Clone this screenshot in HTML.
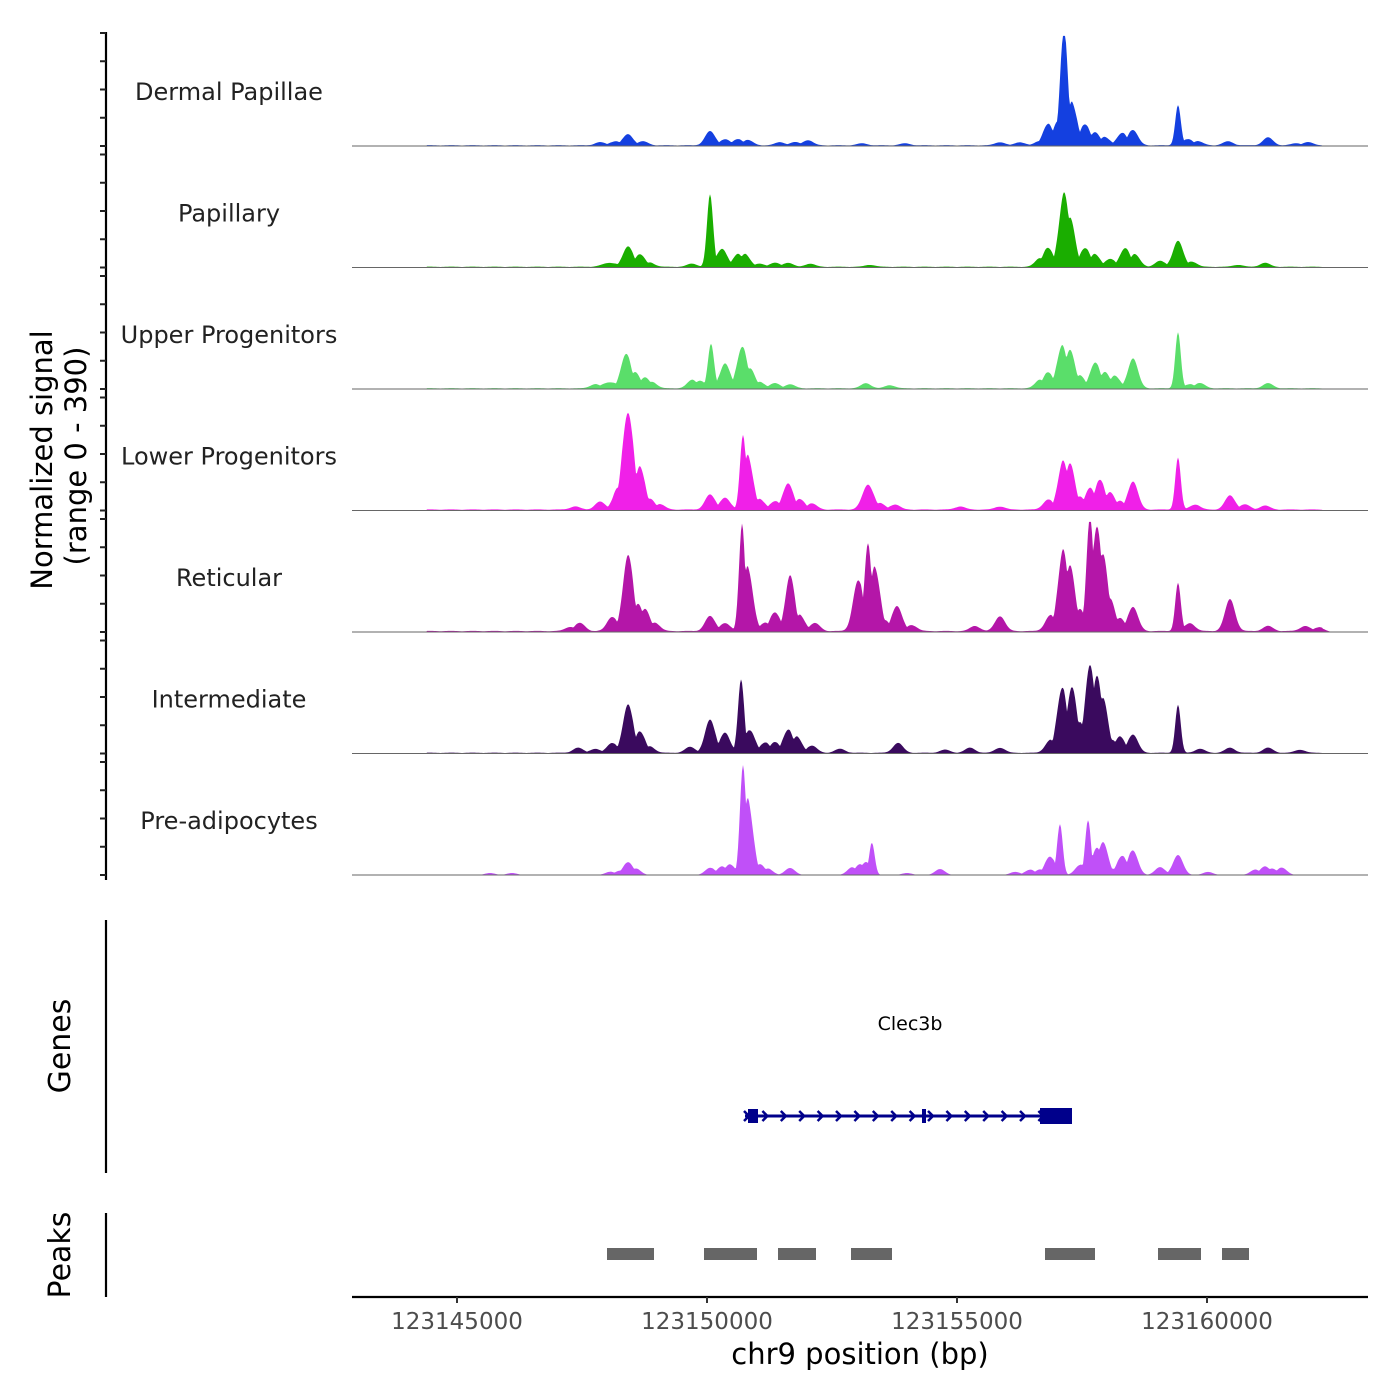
<!DOCTYPE html>
<html><head><meta charset="utf-8"><style>
body{margin:0;background:#fff;}
svg{display:block;font-family:"DejaVu Sans","Liberation Sans",sans-serif;}
</style></head><body>
<svg id="chart" width="1400" height="1400" viewBox="0 0 1400 1400" xmlns="http://www.w3.org/2000/svg">
<g id="tracks"></g>
<g id="left-axis"></g>
<text transform="translate(52,460) rotate(-90)" text-anchor="middle" font-size="29" fill="#000">Normalized signal</text>
<text transform="translate(86,456) rotate(-90)" text-anchor="middle" font-size="29" fill="#000">(range 0 - 390)</text>
<line x1="106" y1="920" x2="106" y2="1173" stroke="#000" stroke-width="2.2"/>
<text transform="translate(70,1046) rotate(-90)" text-anchor="middle" font-size="30">Genes</text>
<line x1="106" y1="1213" x2="106" y2="1297" stroke="#000" stroke-width="2.2"/>
<text transform="translate(70,1255) rotate(-90)" text-anchor="middle" font-size="30">Peaks</text>
<g id="gene"></g>
<g id="peaks"></g>
<g id="xaxis"></g>
<text x="860" y="1364" text-anchor="middle" font-size="29" fill="#000">chr9 position (bp)</text>
</svg>
<script>
const trackNames = ["Dermal Papillae","Papillary","Upper Progenitors","Lower Progenitors","Reticular","Intermediate","Pre-adipocytes"];
const trackColors = ["#1440e0","#1aae00","#5ade6a","#f020e8","#b416a8","#3a0a5e","#c050f8"];
const trackFloor = [3,3,3,4,4,3,0];
const xTicks = [123145000,123150000,123155000,123160000];
const yTickValues = [0,100,200,300,400];
// peaks: [position bp, signal, width bp (optional)]
const dermalPapillae = [[123147860,11],[123148160,14],[123148420,39],[123148720,14],[123150060,50],[123150360,21],[123150620,21],[123150820,18],[123151460,11],[123151760,11],[123152020,18],[123153100,7],[123153960,7],[123155860,11],[123156260,11],[123156660,14],[123156820,71],[123157020,78],[123157140,382,75],[123157300,141],[123157560,71],[123157760,42],[123157960,28],[123158300,42],[123158520,53],[123159420,141,55],[123159620,21],[123159820,14],[123160420,14],[123161220,28],[123161780,7],[123162020,11]];
const papillary = [[123148060,14,150],[123148420,71],[123148660,42],[123148860,14],[123149700,11],[123150060,255,60],[123150300,64],[123150620,42],[123150760,42],[123151060,11],[123151360,14],[123151620,14],[123152060,11],[123153260,7],[123156660,28],[123156820,64],[123157140,241],[123157260,159],[123157560,64],[123157760,42],[123158060,28],[123158360,64],[123158560,42],[123159060,21],[123159420,92],[123159700,18],[123160620,7],[123161160,14]];
const upperProgenitors = [[123147760,14],[123148060,21,150],[123148380,117],[123148560,53],[123148760,35],[123148900,21],[123149700,28],[123149860,25],[123150080,156,60],[123150360,88],[123150700,141],[123150860,64],[123151060,21],[123151360,18],[123151660,14],[123153180,18],[123153660,11],[123156660,28],[123156820,53],[123157100,141],[123157260,124],[123157460,42],[123157760,88],[123157960,53],[123158160,42],[123158520,106],[123159420,198,55],[123159660,14],[123159860,18],[123161220,18]];
const lowerProgenitors = [[123147360,11],[123147860,28],[123148220,71],[123148420,336,110],[123148660,141],[123148860,35],[123149060,18],[123150060,53],[123150360,42],[123150720,241,60],[123150820,177],[123151060,35],[123151360,28],[123151620,92],[123151860,35],[123152100,21],[123153220,88,110],[123153460,21],[123153760,18],[123155060,11],[123155860,11],[123156820,35],[123157120,159],[123157260,149],[123157460,42],[123157660,71],[123157860,99],[123158060,57],[123158260,28],[123158520,99],[123159420,184,55],[123159760,18],[123160460,50,100],[123160760,18],[123161160,14]];
const reticular = [[123147260,14],[123147460,28],[123148100,50],[123148420,265],[123148620,88],[123148760,71],[123148960,28],[123150060,53],[123150360,28],[123150700,347,60],[123150820,212],[123151160,28],[123151360,64],[123151660,195,90],[123151860,53],[123152160,28],[123153020,177],[123153220,283,70],[123153360,212],[123153560,35],[123153800,88],[123154100,21],[123155360,18],[123155860,53],[123156860,53],[123157120,265],[123157260,212],[123157460,71],[123157660,372,70],[123157800,336],[123157920,248],[123158060,106],[123158260,42],[123158520,85],[123159420,170,55],[123159660,28],[123160460,113,100],[123161220,18],[123161960,18],[123162260,14]];
const intermediate = [[123147420,18],[123147760,14],[123148100,35],[123148420,170],[123148660,71],[123148860,21],[123149660,21],[123150060,117],[123150360,71],[123150680,255,60],[123150860,78],[123151160,35],[123151360,35],[123151620,78],[123151800,53],[123152100,25],[123152660,14],[123153820,35],[123154760,11],[123155260,18],[123155860,18],[123156860,42],[123157100,219],[123157300,212],[123157460,99],[123157660,283],[123157800,248],[123157920,177],[123158100,42],[123158260,53],[123158520,64],[123159420,170,55],[123159860,14],[123160460,18],[123161220,18],[123161860,11]];
const preAdipocytes = [[123145660,7],[123146100,7],[123148060,11],[123148260,14],[123148420,42],[123148580,21],[123150060,25],[123150300,28],[123150460,35],[123150720,354,60],[123150820,248],[123151060,35],[123151220,21],[123151660,25],[123152900,25],[123153060,35],[123153180,42],[123153300,106,55],[123154000,7],[123154660,21],[123156160,11],[123156460,18],[123156660,18],[123156860,64],[123157060,177,55],[123157460,35],[123157620,184,55],[123157800,88],[123157920,106],[123158100,21],[123158300,64],[123158520,85],[123159060,28],[123159420,71],[123160020,11],[123160960,18],[123161160,28],[123161300,21],[123161500,25]];
const trackData = [dermalPapillae,papillary,upperProgenitors,lowerProgenitors,reticular,intermediate,preAdipocytes];
const signalStart = 123144400, signalEnd = 123162300;
const geneStart = 123150760, geneEnd = 123157300;
const geneExons = [[123150820,123151020],[123154300,123154380],[123156660,123157300]];
const peakStarts = [123148000,123149940,123151420,123152880,123156760,123159020,123160300];
const peakEnds = [123148940,123151000,123152180,123153700,123157760,123159880,123160840];

const NS="http://www.w3.org/2000/svg";
const X0=352,X1=1368,BP0=123142900,BP1=123163220;
const xScale=b=>X0+(b-BP0)*(X1-X0)/(BP1-BP0);
const PX_PER_UNIT=113/400;
const baseY=i=>146+121.5*i;
const yScale=(v,i)=>baseY(i)-v*PX_PER_UNIT;
function mk(tag,attrs,parent){const e=document.createElementNS(NS,tag);for(const k in attrs)e.setAttribute(k,attrs[k]);parent.appendChild(e);return e;}
const tracks=document.getElementById('tracks');
trackData.forEach((peaks,i)=>{
  const g=mk('g',{},tracks);
  
  
  let d='M'+X0+' '+baseY(i);
  for(let b=BP0;b<=BP1;b+=20){
    let v=0,sum=0;
    for(const p of peaks){const w=p[2]||100;const z=(b-p[0])/w;const s=p[1]*Math.exp(-0.5*z*z);sum+=s;if(s>v)v=s;}
    v=Math.min(v+0.35*(sum-v),v*1.1);
    if(b>=signalStart&&b<=signalEnd)v+=trackFloor[i]*(0.6+0.4*Math.abs(Math.sin(b/137)));
    v=Math.min(v,390);
    d+=' L'+xScale(b).toFixed(1)+' '+yScale(v,i).toFixed(2);
  }
  d+=' L'+X1+' '+baseY(i)+' Z';
  const a=mk('path',{d:d,fill:trackColors[i]},g);
  
  
  const bl=mk('line',{x1:X0,x2:X1,y1:baseY(i),y2:baseY(i),stroke:'#666','stroke-width':1},g);
  
  
  const t=mk('text',{x:229,y:baseY(i)-46,'text-anchor':'middle','font-size':24,fill:'#222'},g);
  
  
  t.textContent=trackNames[i];
});
const la=document.getElementById('left-axis');
mk('line',{x1:106,x2:106,y1:32,y2:880,stroke:'#000','stroke-width':2.2},la);
trackData.forEach((p,i)=>{
  yTickValues.forEach(v=>{
    const y=yScale(v,i);
    const tk=mk('line',{x1:100,x2:106,y1:y,y2:y,stroke:'#222','stroke-width':2},la);
    
    
  });
});
// gene
const gg=document.getElementById('gene');
const gy=1116;
const gl=mk('line',{x1:xScale(geneStart),x2:xScale(geneEnd),y1:gy,y2:gy,stroke:'#00008b','stroke-width':3},gg);


for(let x=xScale(geneStart)+2;x<xScale(geneEnd)-30;x+=18.4){
  const c=mk('polyline',{points:(x-3)+','+(gy-5)+' '+(x+2)+','+gy+' '+(x-3)+','+(gy+5),fill:'none',stroke:'#00008b','stroke-width':2.5},gg);
  
  
}
geneExons.forEach((e,k)=>{
  const big=k===2;
  const r=mk('rect',{x:xScale(e[0]),y:gy-(big?8:7),width:Math.max(3,xScale(e[1])-xScale(e[0])),height:big?16:14,fill:'#00008b'},gg);
  
  
});
const gt=mk('text',{x:910,y:1030,'text-anchor':'middle','font-size':19,fill:'#000'},gg);


gt.textContent='Clec3b';
// peaks
const pg=document.getElementById('peaks');
peakStarts.forEach((s,k)=>{
  const r=mk('rect',{x:xScale(s),y:1248,width:xScale(peakEnds[k])-xScale(s),height:12,fill:'#666'},pg);
  
  
});
// x axis
const xa=document.getElementById('xaxis');
mk('line',{x1:X0,x2:X1,y1:1297,y2:1297,stroke:'#000','stroke-width':2.2},xa);
xTicks.forEach(t=>{
  const x=xScale(t);
  const tk=mk('line',{x1:x,x2:x,y1:1297,y2:1303,stroke:'#333','stroke-width':2},xa);
  
  
  const lb=mk('text',{x:x,y:1329,'text-anchor':'middle','font-size':23,fill:'#4d4d4d'},xa);
  
  
  lb.textContent=t;
});
</script>
</body></html>
